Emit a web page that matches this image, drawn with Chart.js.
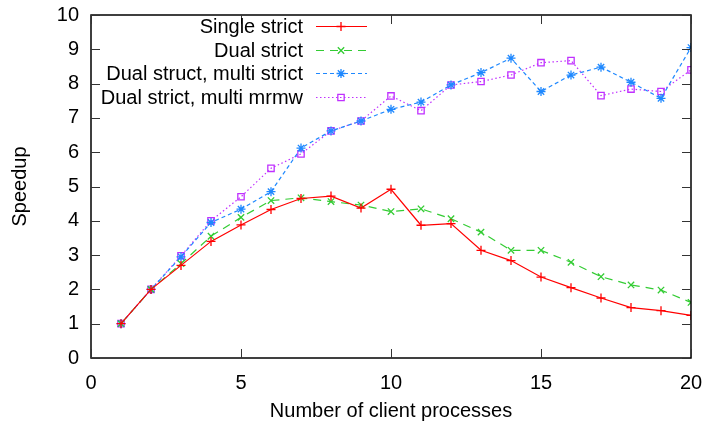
<!DOCTYPE html>
<html><head><meta charset="utf-8">
<script src="https://cdn.jsdelivr.net/npm/chart.js@4/dist/chart.umd.min.js"></script>
<style>html,body{margin:0;padding:0;background:#fff}#wrap{width:703px;height:428px}</style>
</head><body><div id="wrap"><canvas id="c" width="703" height="428"></canvas></div>
<script>
const clients = [1,2,3,4,5,6,7,8,9,10,11,12,13,14,15,16,17,18,19,20];
const singleStrict = [1.0,2.0,2.7,3.4,3.88,4.33,4.65,4.72,4.37,4.92,3.87,3.92,3.14,2.84,2.36,2.05,1.75,1.47,1.38,1.24];
const dualStrict = [1.0,2.0,2.75,3.55,4.1,4.59,4.67,4.56,4.46,4.27,4.35,4.06,3.67,3.14,3.14,2.79,2.37,2.13,1.98,1.62];
const dualStructMultiStrict = [1.0,2.0,2.95,3.95,4.34,4.85,6.12,6.62,6.91,7.25,7.46,7.96,8.32,8.74,7.77,8.25,8.48,8.04,7.57,9.05];
const dualStrictMultiMrmw = [1.0,2.0,2.98,4.0,4.7,5.53,5.95,6.62,6.91,7.64,7.21,7.96,8.06,8.25,8.61,8.67,7.65,7.84,7.77,8.4];
const xTicks = [0,5,10,15,20];
const yTicks = [0,1,2,3,4,5,6,7,8,9,10];
const seriesNames = ["Single strict","Dual strict","Dual struct, multi strict","Dual strict, multi mrmw"];

const FONT = "'Liberation Sans', Arial, sans-serif";
const FS = 20;
function pts(arr){ return clients.map((x,i)=>({x:x,y:arr[i]})); }
const styles = [
  {color:'#ff0000', dash:[], point:'cross'},
  {color:'#33cc33', dash:[8,6], point:'crossRot'},
  {color:'#1e88ff', dash:[4,3], point:'star'},
  {color:'#c030ff', dash:[1.5,2.5], point:'rect'}
];
const data = [singleStrict, dualStrict, dualStructMultiStrict, dualStrictMultiMrmw];
const datasets = data.map((d,i)=>({
  label: seriesNames[i], data: pts(d),
  borderColor: styles[i].color, backgroundColor: 'rgba(0,0,0,0)',
  borderWidth: 1.2, borderDash: styles[i].dash,
  pointStyle: styles[i].point, pointRadius: 4.5,
  pointBorderColor: styles[i].color, pointBackgroundColor:'rgba(0,0,0,0)',
  pointBorderWidth: 1.3, tension: 0, fill:false
}));

const frame = {
  id:'frame',
  afterDatasetsDraw(chart){
    const {ctx, chartArea:a, scales:{x,y}} = chart;
    ctx.save();
    ctx.strokeStyle = '#000'; ctx.lineWidth = 1.5; ctx.setLineDash([]);
    ctx.strokeRect(a.left, a.top, a.right-a.left, a.bottom-a.top);
    ctx.lineWidth = 1; ctx.strokeStyle = '#333';
    const L = 9;
    xTicks.forEach(v=>{ const px = Math.round(x.getPixelForValue(v))+0.5;
      ctx.beginPath(); ctx.moveTo(px,a.bottom); ctx.lineTo(px,a.bottom-L);
      ctx.moveTo(px,a.top); ctx.lineTo(px,a.top+L); ctx.stroke(); });
    yTicks.forEach(v=>{ const py = Math.round(y.getPixelForValue(v))+0.5;
      ctx.beginPath(); ctx.moveTo(a.left,py); ctx.lineTo(a.left+L,py);
      ctx.moveTo(a.right,py); ctx.lineTo(a.right-L,py); ctx.stroke(); });
    // legend
    const rows = [26,50,73,97];
    ctx.font = FS + 'px ' + FONT; ctx.textAlign='right'; ctx.textBaseline='middle';
    seriesNames.forEach((n,i)=>{
      const yy = rows[i];
      ctx.fillStyle='#000'; ctx.fillText(n, 303, yy+1);
      ctx.strokeStyle = styles[i].color; ctx.lineWidth = 1.2; ctx.setLineDash(styles[i].dash);
      ctx.beginPath(); ctx.moveTo(316, yy+0.5); ctx.lineTo(367, yy+0.5); ctx.stroke();
      ctx.setLineDash([]); ctx.lineWidth = 1.3; ctx.fillStyle = 'rgba(0,0,0,0)';
      Chart.helpers.drawPoint(ctx, {pointStyle: styles[i].point, radius:4.5, rotation:0, borderWidth:1.3}, 341, yy+0.5);
    });
    ctx.restore();
  }
};

new Chart(document.getElementById('c'), {
  type:'line',
  data:{datasets},
  options:{
    responsive:false, animation:false, devicePixelRatio:1,
    layout:{padding:{top:15,right:12,left:0,bottom:0}},
    plugins:{legend:{display:false}, tooltip:{enabled:false}},
    scales:{
      x:{type:'linear', min:0, max:20,
        afterBuildTicks(s){ s.ticks = xTicks.map(v=>({value:v})); },
        afterFit(s){ s.height = 70; s.paddingLeft = 0; s.paddingRight = 0; },
        grid:{display:false, drawTicks:false}, border:{display:false},
        ticks:{padding:13, color:'#000', font:{family:FONT, size:FS}},
        title:{display:true, text:'Number of client processes', color:'#000', font:{family:FONT,size:FS}, padding:{top:0,bottom:5}}
      },
      y:{type:'linear', min:0, max:10,
        afterBuildTicks(s){ s.ticks = yTicks.map(v=>({value:v})); },
        afterFit(s){ s.width = 91; s.paddingTop = 0; s.paddingBottom = 0; },
        grid:{display:false, drawTicks:false}, border:{display:false},
        ticks:{padding:12, color:'#000', font:{family:FONT, size:FS}},
        title:{display:true, text:'Speedup', color:'#000', font:{family:FONT,size:FS}, padding:{top:8,bottom:0}}
      }
    }
  },
  plugins:[frame]
});
</script></body></html>
